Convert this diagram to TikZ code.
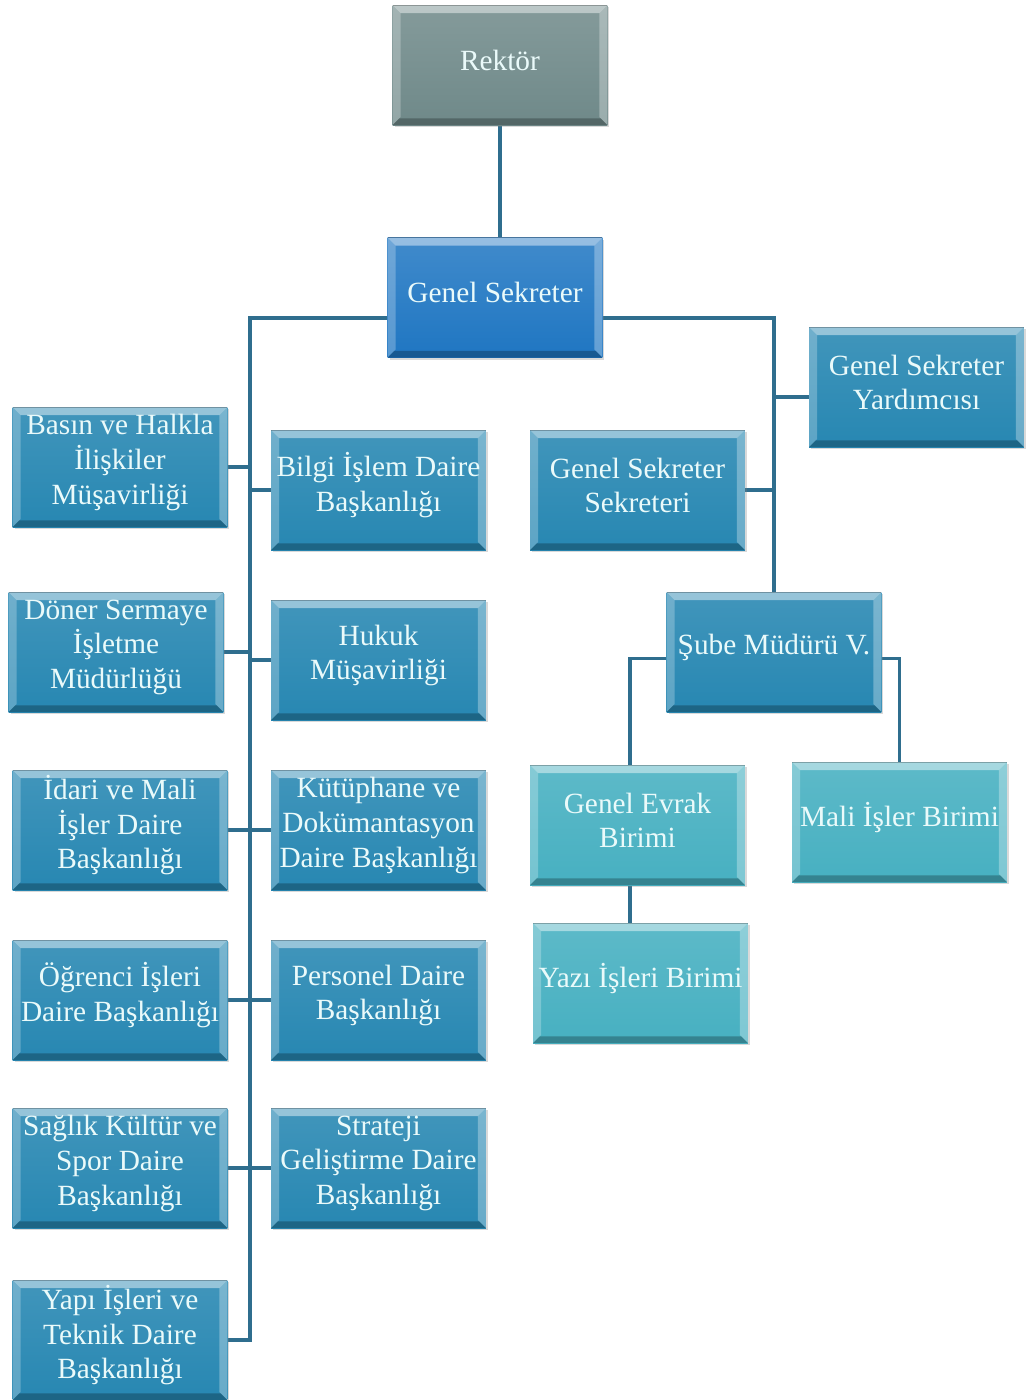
\documentclass[tikz,border=0pt]{standalone}
\usepackage{fontspec}
\setmainfont{Liberation Serif}
\usetikzlibrary{backgrounds,shadows}
\definecolor{cGray}{HTML}{6F8989}
\definecolor{cBlue}{HTML}{1F76C2}
\definecolor{cTeal}{HTML}{2787B2}
\definecolor{cLight}{HTML}{47B0C1}
\definecolor{cLine}{HTML}{2F6E8E}
\definecolor{cText}{HTML}{EAFAFA}
\tikzset{
  bevel/.style={path picture={
    \fill[white,opacity=.45] (path picture bounding box.north west) -- (path picture bounding box.north east)
      -- ([shift={(-6pt,-6pt)}]path picture bounding box.north east) -- ([shift={(6pt,-6pt)}]path picture bounding box.north west) -- cycle;
    \fill[white,opacity=.25] (path picture bounding box.north west) -- ([shift={(6pt,-6pt)}]path picture bounding box.north west)
      -- ([shift={(6pt,6pt)}]path picture bounding box.south west) -- (path picture bounding box.south west) -- cycle;
    \fill[white,opacity=.3] (path picture bounding box.north east) -- ([shift={(-6pt,-6pt)}]path picture bounding box.north east)
      -- ([shift={(-6pt,6pt)}]path picture bounding box.south east) -- (path picture bounding box.south east) -- cycle;
    \fill[black,opacity=.25] (path picture bounding box.south west) -- (path picture bounding box.south east)
      -- ([shift={(-5pt,5pt)}]path picture bounding box.south east) -- ([shift={(5pt,5pt)}]path picture bounding box.south west) -- cycle;
    \draw[black,opacity=.25,line width=1pt] (path picture bounding box.north west) -- (path picture bounding box.north east);
  }},
  box/.style={draw=none, minimum width=161pt, minimum height=90pt, inner sep=0pt, bevel,
    drop shadow={opacity=.3, shadow xshift=1.5pt, shadow yshift=-1.5pt}},
  graybox/.style={box, top color=cGray!85!white, bottom color=cGray},
  bluebox/.style={box, top color=cBlue!85!white, bottom color=cBlue},
  tealbox/.style={box, top color=cTeal!88!white, bottom color=cTeal},
  lightbox/.style={box, top color=cLight!88!white, bottom color=cLight},
  txt/.style={text=cText, align=center, font=\fontsize{22}{26}\selectfont, inner sep=0pt},
  conn/.style={draw=cLine, line width=2.4pt},
}
\newcommand{\obox}[5]{\node[#2] (#1) at (#3,#4) {}; \node[txt] (#1t) at ([yshift=3.5pt]#1.center) {#5};}
\begin{document}
\begin{tikzpicture}[x=0.75pt,y=-0.75pt]
\useasboundingbox (0,0) rectangle (1026,1400);
\obox{rek}{graybox}{500}{65}{Rektör}
\obox{gs}{bluebox}{495}{297.5}{Genel Sekreter}
\obox{basin}{tealbox}{120}{467}{Basın ve Halkla\\İlişkiler\\Müşavirliği}
\obox{doner}{tealbox}{116}{652}{Döner Sermaye\\İşletme\\Müdürlüğü}
\obox{idari}{tealbox}{120}{830}{İdari ve Mali\\İşler Daire\\Başkanlığı}
\obox{ogr}{tealbox}{120}{1000}{Öğrenci İşleri\\Daire Başkanlığı}
\obox{sag}{tealbox}{120}{1168}{Sağlık Kültür ve\\Spor Daire\\Başkanlığı}
\obox{yapi}{tealbox}{120}{1340}{Yapı İşleri ve\\Teknik Daire\\Başkanlığı}
\obox{bilgi}{tealbox}{378.5}{490}{Bilgi İşlem Daire\\Başkanlığı}
\obox{hukuk}{tealbox}{378.5}{660}{Hukuk\\Müşavirliği}
\obox{kut}{tealbox}{378.5}{830}{Kütüphane ve\\Dokümantasyon\\Daire Başkanlığı}
\obox{pers}{tealbox}{378.5}{1000}{Personel Daire\\Başkanlığı}
\obox{str}{tealbox}{378.5}{1168}{Strateji\\Geliştirme Daire\\Başkanlığı}
\obox{yard}{tealbox}{916.5}{387}{Genel Sekreter\\Yardımcısı}
\obox{sek}{tealbox}{637.5}{490}{Genel Sekreter\\Sekreteri}
\obox{sube}{tealbox}{774}{652}{Şube Müdürü V.}
\obox{genev}{lightbox}{637.5}{825}{Genel Evrak\\Birimi}
\obox{mali}{lightbox}{899.5}{822}{Mali İşler Birimi}
\obox{yazi}{lightbox}{640.5}{983}{Yazı İşleri Birimi}
\coordinate (tb) at (250,1340);
\begin{scope}[on background layer]
\draw[conn] (rek.south) -- (rek.south |- gs.north);
\draw[conn] ([yshift=-15.4pt]gs.west) -| (tb) -- (yapi.east);
\foreach \n in {basin,doner,idari,ogr,sag} \draw[conn] (\n.east) -- (\n.east -| tb);
\foreach \n in {bilgi,hukuk,kut,pers,str} \draw[conn] (\n.west) -- (\n.west -| tb);
\draw[conn] ([yshift=-15.4pt]gs.east) -| (sube.north);
\draw[conn] ([yshift=-7.5pt]yard.west) -- ([yshift=-7.5pt]yard.west -| sube.north);
\draw[conn] (sek.east) -- (sek.east -| sube.north);
\draw[conn] ([yshift=-5pt]sube.west) -| ([xshift=-5.6pt]genev.north);
\draw[conn] ([yshift=-5pt]sube.east) -| (mali.north);
\draw[conn] ([xshift=-5.6pt]genev.south) -- ([xshift=-5.6pt]genev.south |- yazi.north);
\end{scope}
\end{tikzpicture}
\end{document}
